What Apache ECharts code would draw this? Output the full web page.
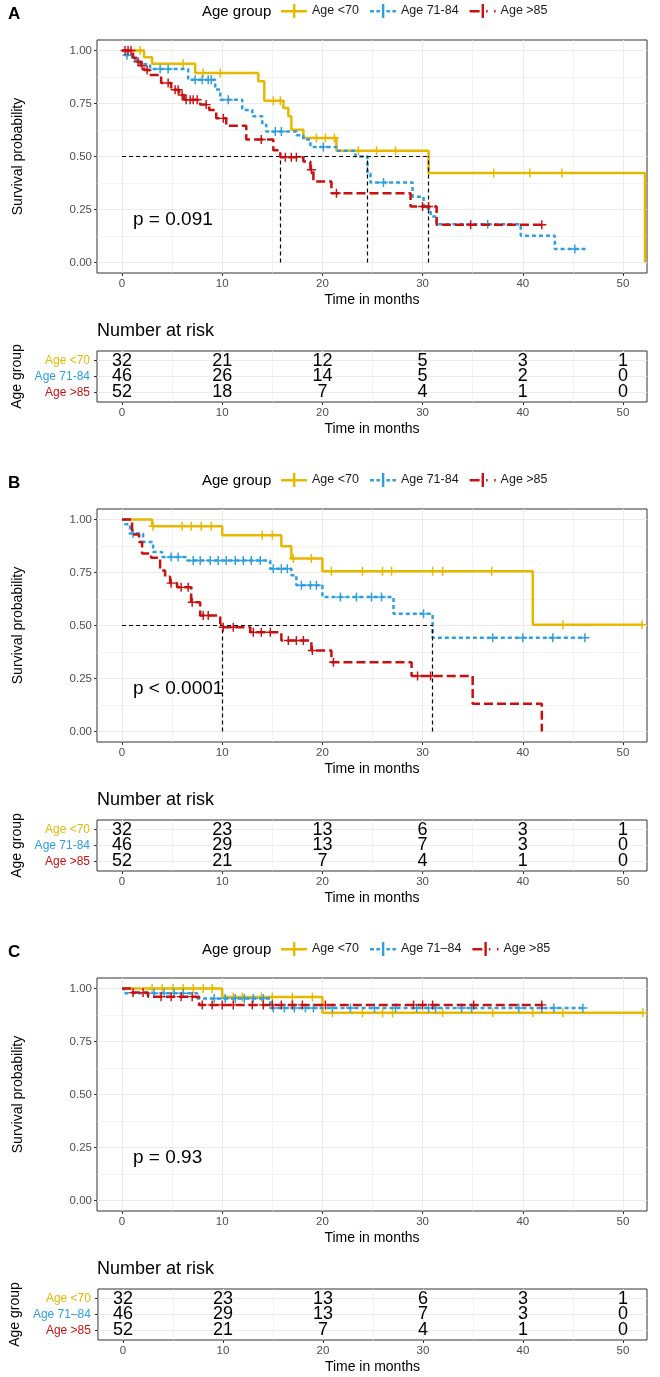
<!DOCTYPE html>
<html>
<head>
<meta charset="utf-8">
<title>Survival by age group</title>
<script src="https://cdn.jsdelivr.net/npm/echarts@6/dist/echarts.min.js"></script>
<style>
  html, body { margin: 0; padding: 0; background: #fff; }
  #chart { width: 660px; height: 1377px; }
</style>
</head>
<body>
<div id="chart"></div>
<script>
// values
var groupNames = ['Age <70', 'Age 71-84', 'Age >85'];
var groupNamesC = ['Age <70', 'Age 71\u201384', 'Age >85'];
var colors = ['#E7B800', '#2E9FDF', '#C81010'];

var xTicks = [0, 10, 20, 30, 40, 50];
var xMinor = [5, 15, 25, 35, 45];
var yTicks = [0, 0.25, 0.5, 0.75, 1];
var yMinor = [0.125, 0.375, 0.625, 0.875];
var riskTimes = [0, 10, 20, 30, 40, 50];

// panel A : [time, survival] steps, censor times
var aYoung = [[0,1],[2.2,0.969],[3.0,0.938],[7.3,0.894],[13.6,0.855],[14.2,0.763],[16.1,0.729],[16.6,0.69],[16.9,0.626],[18.1,0.587],[21.4,0.527],[30.6,0.422],[52.2,0]];
var aYoungCens = [1.8,6.1,8.1,9.8,15.1,15.8,19.4,20.3,21.2,23.6,25.4,27.3,37.1,40.7,43.9];
var aMid = [[0,1],[0.3,0.978],[1.0,0.957],[1.8,0.935],[2.8,0.913],[6.6,0.862],[9.3,0.816],[9.8,0.768],[12.0,0.72],[13.0,0.69],[14.0,0.65],[14.4,0.618],[17.4,0.6],[18.1,0.58],[18.8,0.545],[21.4,0.527],[23.3,0.5],[24.5,0.42],[24.8,0.377],[29.0,0.31],[30.1,0.256],[30.8,0.217],[31.4,0.18],[39.8,0.126],[43.2,0.063],[46.3,0.063]];
var aMidCens = [0.5,3.8,4.6,7.3,8.0,8.6,8.9,10.6,15.3,15.9,20.1,26.1,36.5,45.2];
var aOld = [[0,1],[1.1,0.966],[1.5,0.947],[1.9,0.928],[2.2,0.908],[2.7,0.885],[3.9,0.847],[4.9,0.815],[5.7,0.79],[6.2,0.768],[7.8,0.745],[8.7,0.72],[9.4,0.68],[10.4,0.645],[12.4,0.58],[15.1,0.53],[15.8,0.497],[18.1,0.476],[18.8,0.437],[19.1,0.382],[20.9,0.327],[28.8,0.264],[31.4,0.178],[41.9,0.178]];
var aOldCens = [0.3,0.6,0.9,1.6,2.0,2.5,4.6,5.3,5.6,6.0,6.4,6.8,7.1,7.5,8.4,10.1,13.9,16.3,16.9,17.4,18.9,21.4,30.0,30.6,34.8,41.9];
var aMedians = [30.6, 24.5, 15.8];
var aRisk = [[32,21,12,5,3,1],[46,26,14,5,2,0],[52,18,7,4,1,0]];
var aP = 'p = 0.091';

// panel B
var bYoung = [[0,1],[3.0,0.969],[10.0,0.926],[15.9,0.874],[16.9,0.816],[20.0,0.756],[41.0,0.504],[52.0,0.504]];
var bYoungCens = [3.1,6.0,6.9,7.9,8.9,14.0,15.0,17.1,18.9,20.9,24.0,26.0,26.9,31.0,32.0,36.9,44.0,51.9];
var bMid = [[0,1],[0.3,0.978],[0.8,0.934],[2.1,0.894],[3.1,0.847],[4.0,0.823],[6.5,0.807],[14.8,0.768],[16.9,0.737],[17.4,0.69],[20.0,0.634],[27.1,0.555],[31.0,0.442],[46.3,0.442]];
var bMidCens = [1.1,4.9,5.6,7.1,7.8,8.8,9.6,10.4,11.3,12.1,12.9,13.8,15.1,15.9,16.5,17.9,18.8,19.4,21.8,23.4,24.9,25.9,30.1,37.0,40.0,43.0,46.2];
var bOld = [[0,1],[1.0,0.93],[1.7,0.894],[2.0,0.84],[2.9,0.82],[3.8,0.76],[4.3,0.73],[4.8,0.7],[5.5,0.68],[6.9,0.61],[7.8,0.547],[9.8,0.508],[10.0,0.492],[12.8,0.468],[15.9,0.429],[18.9,0.382],[20.9,0.327],[28.9,0.262],[35.0,0.131],[41.9,0]];
var bOldCens = [4.9,5.9,6.6,7.0,8.1,8.6,10.1,11.1,13.1,13.9,14.8,16.6,17.4,18.1,19.0,21.1,29.5,30.8];
var bMedians = [31.0, 10.0];
var bRisk = [[32,23,13,6,3,1],[46,29,13,7,3,0],[52,21,7,4,1,0]];
var bP = 'p < 0.0001';

// panel C
var cYoung = [[0,1],[10.0,0.96],[20.0,0.886],[52.0,0.886]];
var cYoungCens = [3.0,4.0,5.1,6.1,7.1,8.1,9.0,11.1,12.0,13.9,15.0,17.0,19.0,21.0,24.0,26.0,27.0,32.0,37.0,41.0,44.0,52.0];
var cMid = [[0,1],[0.2,0.978],[7.5,0.953],[14.8,0.908],[46.2,0.908]];
var cMidCens = [3.2,4.2,5.2,6.1,9.2,10.3,11.3,12.2,13.1,14.1,15.1,16.2,17.2,18.3,19.1,21.0,22.8,25.2,27.3,29.4,30.6,31.3,33.9,34.9,39.6,41.9,43.1,46.0];
var cOld = [[0,1],[1.0,0.981],[2.6,0.962],[7.7,0.923],[42.0,0.923]];
var cOldCens = [1.1,2.1,3.9,4.9,5.9,7.0,8.0,9.0,10.0,11.1,13.0,14.1,15.0,15.9,17.0,18.0,20.3,29.1,30.0,31.0,35.1,41.9];
var cMedians = [];
var cRisk = [[32,23,13,6,3,1],[46,29,13,7,3,0],[52,21,7,4,1,0]];
var cP = 'p = 0.93';

var panels = [
    { letter: 'A', names: groupNames,  curves: [aYoung, aMid, aOld], cens: [aYoungCens, aMidCens, aOldCens], medians: aMedians, risk: aRisk, p: aP },
    { letter: 'B', names: groupNames,  curves: [bYoung, bMid, bOld], cens: [bYoungCens, bMidCens, bOldCens], medians: bMedians, risk: bRisk, p: bP },
    { letter: 'C', names: groupNamesC, curves: [cYoung, cMid, cOld], cens: [cYoungCens, cMidCens, cOldCens], medians: cMedians, risk: cRisk, p: cP }
];

// layout
var FONT = '"Liberation Sans", Arial, sans-serif';
var PANEL_H = 469;
var GRID_LEFT = 97, GRID_W = 550;
var X_MIN = -2.5, X_MAX = 52.4;
var gridLine = '#EBEBEB';
var plusPath = 'path://M0,4.2H10V5.8H0Z M4.2,0H5.8V10H4.2Z';
var legendIcons = [
    'path://M0,6H26V8.4H0Z M12,0H14.4V14H12Z',
    'path://M0,6H4V8.4H0Z M6.5,6H10V8.4H6.5Z M12,0H14.4V14H12Z M16.5,6H20V8.4H16.5Z M22.5,6H26V8.4H22.5Z',
    'path://M0,6H10V8.4H0Z M12,0H14.4V14H12Z M16.5,6H18V8.4H16.5Z M24.5,6H26V8.4H24.5Z'
];
var dashes = ['solid', [4, 3], [9, 4]];

function survAt(curve, t) {
    var s = curve[0][1];
    for (var i = 0; i < curve.length; i++) {
        if (curve[i][0] <= t) s = curve[i][1];
    }
    return s;
}

var grids = [], xAxes = [], yAxes = [], series = [], legends = [], graphics = [];

function majorX(gi) {
    return {
        type: 'value', gridIndex: gi, min: X_MIN, max: X_MAX,
        axisLine: { show: false, onZero: false },
        axisTick: { show: true, customValues: xTicks, length: 3, lineStyle: { color: '#333' } },
        axisLabel: { customValues: xTicks, color: '#4D4D4D', fontSize: 11.5, margin: 5, fontFamily: FONT },
        splitLine: { show: true, lineStyle: { color: gridLine, width: 1 } },
        name: 'Time in months', nameLocation: 'middle', nameGap: 20,
        nameTextStyle: { fontSize: 14, color: '#000', fontFamily: FONT }
    };
}
function minorX(gi) {
    return {
        type: 'value', gridIndex: gi, min: X_MIN, max: X_MAX, position: 'bottom',
        axisLine: { show: false, onZero: false },
        axisTick: { show: false, customValues: xMinor },
        axisLabel: { show: false, customValues: xMinor },
        splitLine: { show: true, lineStyle: { color: gridLine, width: 0.6 } }
    };
}

panels.forEach(function (pn, p) {
    var off = p * PANEL_H;
    var gPlot = 2 * p, gTab = 2 * p + 1;
    grids.push({ left: GRID_LEFT, width: GRID_W, top: 40 + off, height: 233, show: true, borderColor: '#333', borderWidth: 1 });
    grids.push({ left: GRID_LEFT, width: GRID_W, top: 351 + off, height: 51, show: true, borderColor: '#333', borderWidth: 1 });

    // plot axes
    xAxes.push(majorX(gPlot), minorX(gPlot));
    yAxes.push({
        type: 'value', gridIndex: gPlot, min: -0.05, max: 1.05,
        axisLine: { show: false, onZero: false },
        axisTick: { show: true, customValues: yTicks, length: 3, lineStyle: { color: '#333' } },
        axisLabel: { customValues: yTicks, color: '#4D4D4D', fontSize: 11.5, margin: 5, fontFamily: FONT,
            formatter: function (v) { return v.toFixed(2); } },
        splitLine: { show: true, lineStyle: { color: gridLine, width: 1 } },
        name: 'Survival probability', nameLocation: 'middle', nameGap: 72,
        nameTextStyle: { fontSize: 14, color: '#000', fontFamily: FONT }
    }, {
        type: 'value', gridIndex: gPlot, min: -0.05, max: 1.05, position: 'left',
        axisLine: { show: false, onZero: false },
        axisTick: { show: false, customValues: yMinor },
        axisLabel: { show: false, customValues: yMinor },
        splitLine: { show: true, lineStyle: { color: gridLine, width: 0.6 } }
    });

    // table axes
    xAxes.push(majorX(gTab), minorX(gTab));
    var rich = {};
    colors.forEach(function (c, i) { rich['r' + (i + 1)] = { color: c, fontSize: 12, fontFamily: FONT }; });
    yAxes.push({
        type: 'value', gridIndex: gTab, min: 0.4, max: 3.6, inverse: true,
        axisLine: { show: false, onZero: false },
        axisTick: { show: true, customValues: [1, 2, 3], length: 3, lineStyle: { color: '#333' } },
        axisLabel: { customValues: [1, 2, 3], margin: 7,
            formatter: function (v) { return '{r' + v + '|' + pn.names[v - 1] + '}'; }, rich: rich },
        splitLine: { show: true, lineStyle: { color: gridLine, width: 1 } },
        name: 'Age group', nameLocation: 'middle', nameGap: 72,
        nameTextStyle: { fontSize: 14, color: '#000', fontFamily: FONT }
    }, {
        type: 'value', gridIndex: gTab, min: 0.4, max: 3.6, inverse: true, show: false
    });

    var xa = 4 * p, ya = 4 * p, xt = 4 * p + 2, yt = 4 * p + 2;

    // survival curves with censor marks
    pn.curves.forEach(function (curve, g) {
        var s = {
            name: pn.names[g], type: 'line', xAxisIndex: xa, yAxisIndex: ya,
            data: curve, step: 'end', symbol: 'none', showSymbol: false,
            lineStyle: { color: colors[g], width: 2.5, type: dashes[g], cap: 'butt' },
            itemStyle: { color: colors[g] }, z: 3 + g, silent: true
        };
        if (g === 2 && pn.medians.length) {
            var mx = Math.max.apply(null, pn.medians);
            var ml = [[{ coord: [0, 0.5] }, { coord: [mx, 0.5] }]];
            pn.medians.forEach(function (m) { ml.push([{ coord: [m, 0] }, { coord: [m, 0.5] }]); });
            s.markLine = { silent: true, symbol: ['none', 'none'], label: { show: false },
                lineStyle: { color: '#000', width: 1.2, type: [4, 3] }, data: ml, animation: false };
        }
        series.push(s);
        series.push({
            name: 'censor ' + p + g, type: 'scatter', xAxisIndex: xa, yAxisIndex: ya,
            data: pn.cens[g].map(function (t) { return [t, survAt(curve, t)]; }),
            symbol: plusPath, symbolSize: 9, itemStyle: { color: colors[g], opacity: 1 }, z: 3 + g, silent: true
        });
    });

    // number at risk
    var riskData = [];
    pn.risk.forEach(function (row, g) {
        row.forEach(function (n, i) { riskData.push([riskTimes[i], g + 1, n]); });
    });
    series.push({
        name: 'risk ' + p, type: 'scatter', xAxisIndex: xt, yAxisIndex: yt, data: riskData,
        symbolSize: 1, itemStyle: { color: 'rgba(255,255,255,0)', opacity: 1 }, silent: true,
        label: { show: true, position: 'inside', color: '#000', fontSize: 18, fontFamily: FONT,
            textBorderWidth: 0, formatter: function (d) { return d.value[2]; } }
    });

    legends.push({
        top: -1 + off, left: 276, itemWidth: 26, itemHeight: 14, itemGap: 11, selectedMode: false,
        textStyle: { fontSize: 12.5, color: '#1a1a1a', fontFamily: FONT },
        data: pn.names.map(function (n, g) { return { name: n, icon: legendIcons[g] }; })
    });

    graphics.push(
        { type: 'text', left: 8, top: 6 + off, style: { text: pn.letter, font: 'bold 17px ' + FONT, fill: '#000' } },
        { type: 'text', left: 202, top: 4 + off, style: { text: 'Age group', font: '15px ' + FONT, fill: '#000' } },
        { type: 'text', left: 97, top: 322 + off, style: { text: 'Number at risk', font: '18px ' + FONT, fill: '#000' } },
        { type: 'text', left: 133, top: 210 + off, z: 10, style: { text: pn.p, font: '19px ' + FONT, fill: '#000' } }
    );
});

var chart = echarts.init(document.getElementById('chart'), null, { renderer: 'canvas' });
chart.setOption({
    animation: false,
    backgroundColor: '#fff',
    textStyle: { fontFamily: FONT },
    grid: grids,
    xAxis: xAxes,
    yAxis: yAxes,
    legend: legends,
    graphic: graphics,
    series: series
});
</script>
</body>
</html>
